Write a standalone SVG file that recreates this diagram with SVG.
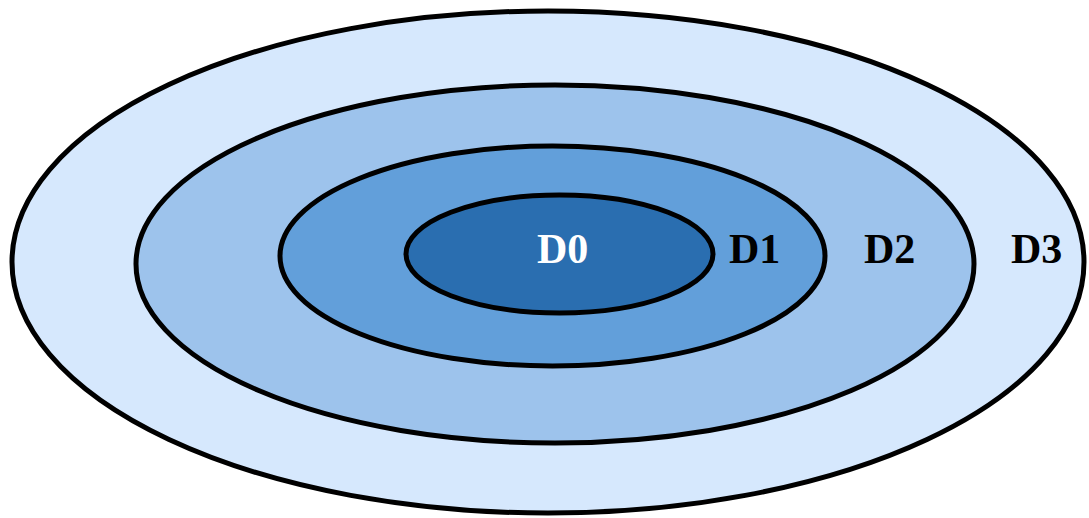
<svg xmlns="http://www.w3.org/2000/svg" width="1089" height="518" viewBox="0 0 1089 518">
<style>
.ring{stroke:#000;stroke-width:5}
.lbl{font-family:"Liberation Serif","Times New Roman",serif;font-weight:bold;font-size:42px}
</style>
<rect width="1089" height="518" fill="#fff"/>
<g id="D3">
<ellipse class="ring" cx="548" cy="262" rx="536" ry="251" fill="#D6E8FD"/>
<text class="lbl" x="1011" y="263" fill="#000">D3</text>
</g>
<g id="D2">
<ellipse class="ring" cx="555" cy="264" rx="419" ry="179" fill="#9DC3EC"/>
<text class="lbl" x="864" y="263" fill="#000">D2</text>
</g>
<g id="D1">
<ellipse class="ring" cx="552.5" cy="256" rx="272.5" ry="110" fill="#629FDA"/>
<text class="lbl" x="729" y="263" fill="#000">D1</text>
</g>
<g id="D0">
<ellipse class="ring" cx="559.5" cy="254" rx="153.5" ry="59" fill="#2A6EB0"/>
<text class="lbl" x="537" y="263" fill="#fff">D0</text>
</g>
<g id="connectors"></g>
</svg>
